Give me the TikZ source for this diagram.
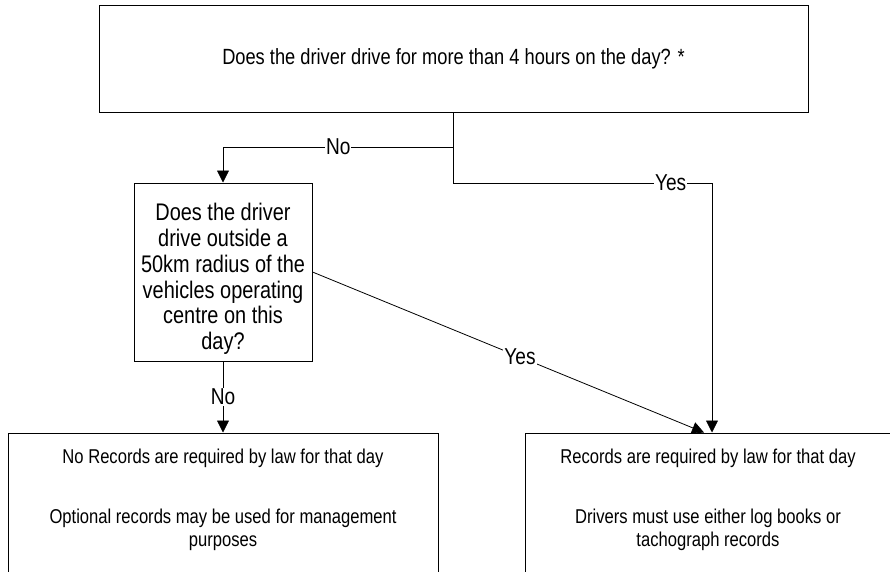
\documentclass[tikz,border=0pt]{standalone}
\usepackage{fontspec}
\setmainfont[FakeStretch=0.83]{Liberation Sans}
\usetikzlibrary{arrows.meta}
\begin{document}
\begin{tikzpicture}[x=1pt,y=-1pt,
  box/.style={draw, line width=1pt, inner sep=0pt},
  conn/.style={line width=0.8pt},
  arr/.style={conn, -{Triangle[length=12pt,width=12pt]}},
  txt/.style={align=center, inner sep=0pt, font=\fontsize{20}{23}\selectfont},
  lbl/.style={fill=white, inner sep=1pt, font=\fontsize{23}{25}\selectfont}]
\useasboundingbox (0,0) rectangle (890,571);
\clip (0,0) rectangle (890,571);
\node[box, minimum width=709pt, minimum height=107pt, font=\fontsize{22}{25}\selectfont] (q1) at (453.5,59.2) {Does the driver drive for more than 4 hours on the day? *};
\node[box, minimum width=178pt, minimum height=178pt,
  label={[txt, yshift=-7pt, font=\fontsize{24}{25.7}\selectfont]center:Does the driver\\drive outside a\\50km radius of the\\vehicles operating\\centre on this\\day?}] (q2) at (223,272) {};
\node[box, minimum width=430pt, minimum height=166pt,
  label={[txt, anchor=north, yshift=-16pt]north:No Records are required by law for that day\\[37pt]Optional records may be used for management\\purposes}] (r1) at (223,516) {};
\node[box, minimum width=366pt, minimum height=166pt,
  label={[txt, anchor=north, yshift=-16pt]north:Records are required by law for that day\\[37pt]Drivers must use either log books or\\tachograph records}] (r2) at (708,516) {};
\coordinate (j1) at (453.5,147);
\coordinate (yc) at (712,183);
\draw[arr] (j1) -| node[lbl, pos=0.25]{No} (q2.north);
\draw[arr] (q1.south) |- node[lbl, pos=0.92]{Yes} (yc) -- (yc |- r2.north);
\draw[arr] (q2.east) -- node[lbl, pos=0.53]{Yes} ([xshift=-4pt]r2.north);
\draw[arr] (q2.south) -- node[lbl]{No} (r1.north);
\end{tikzpicture}
\end{document}
